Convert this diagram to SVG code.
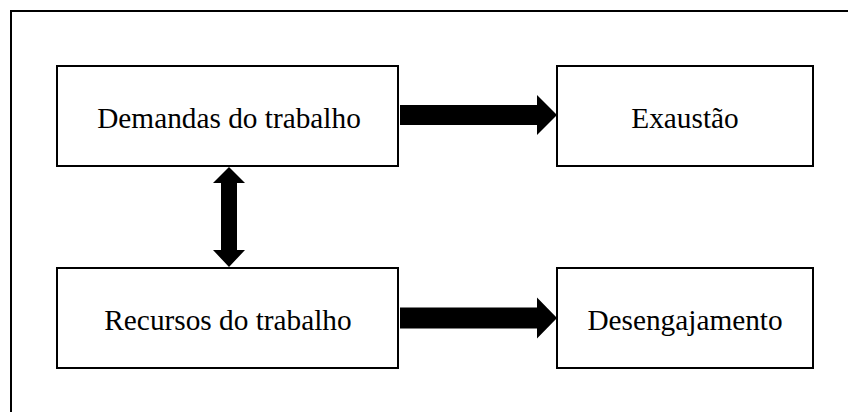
<svg xmlns="http://www.w3.org/2000/svg" width="848" height="412" viewBox="0 0 848 412">
<style>
.box{fill:#fff;stroke:#000;stroke-width:2}
.lbl{font-family:"Liberation Serif","Times New Roman",serif;font-size:29.3px;fill:#000;text-anchor:middle}
.arr{fill:#000;stroke:none}
</style>
<rect width="848" height="412" fill="#fff"/>
<rect x="11" y="11" width="900" height="500" fill="none" stroke="#000" stroke-width="2"/>
<g id="demandas"><rect class="box" x="57" y="66" width="341" height="100"/><text class="lbl" x="229" y="128">Demandas do trabalho</text></g>
<g id="exaustao"><rect class="box" x="557" y="66" width="256" height="100"/><text class="lbl" x="685" y="128">Exaustão</text></g>
<g id="recursos"><rect class="box" x="57" y="268" width="341" height="100"/><text class="lbl" x="228" y="330">Recursos do trabalho</text></g>
<g id="desengajamento"><rect class="box" x="557" y="268" width="256" height="100"/><text class="lbl" x="685" y="330">Desengajamento</text></g>
<g id="connectors">
<polygon class="arr" points="400,105 537,105 537,95 557,115 537,135 537,125 400,125"/>
<polygon class="arr" points="400,307.5 537,307.5 537,297.5 557,318 537,338.5 537,328.5 400,328.5"/>
<polygon class="arr" points="229,167 245,183 237,183 237,250 245,250 229,267 213,250 221,250 221,183 213,183"/>
</g>
</svg>
